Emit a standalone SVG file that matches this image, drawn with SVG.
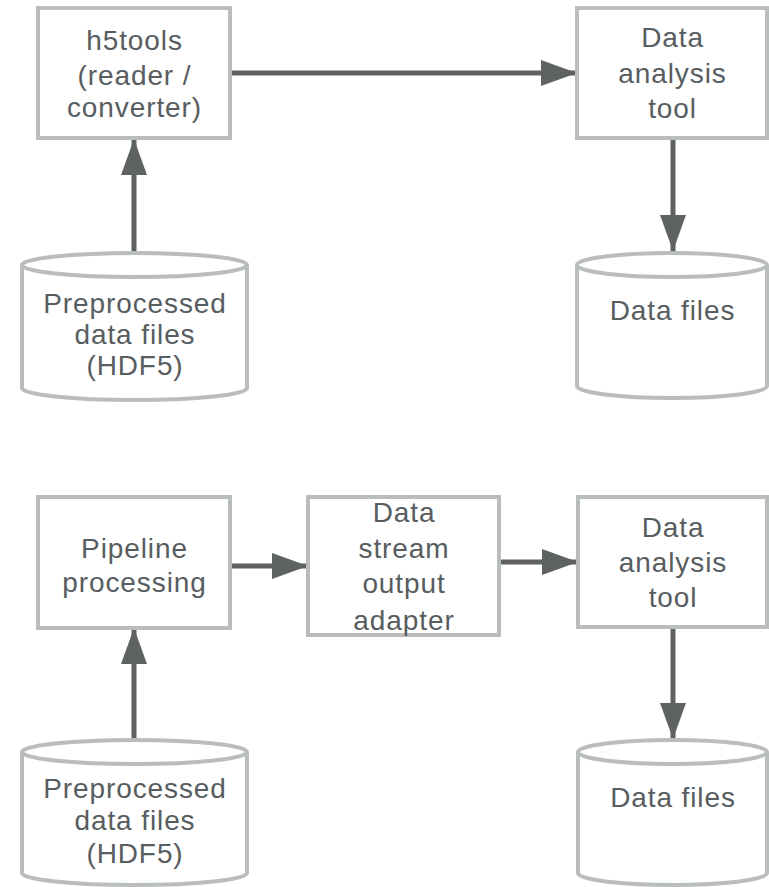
<svg xmlns="http://www.w3.org/2000/svg" width="769" height="887" viewBox="0 0 769 887">
  <style>
    .box { fill: #ffffff; stroke: #b9bdbe; stroke-width: 4; }
    .db { fill: #ffffff; stroke: #b9bdbe; stroke-width: 4; }
    .lbl { font-family: "Liberation Sans", Arial, sans-serif; font-size: 28px; letter-spacing: 0.9px; fill: #585d5f; text-anchor: middle; }
    .edge { stroke: #5e6263; stroke-width: 5; fill: none; }
    .head { fill: #5e6263; }
  </style>
  <defs>
    <marker id="arrow" viewBox="0 0 36 26" refX="36" refY="13" markerWidth="36" markerHeight="26" markerUnits="userSpaceOnUse" orient="auto">
      <path class="head" d="M0,0 L36,13 L0,26 Z"/>
    </marker>
  </defs>

  <!-- connectors -->
  <g id="edges">
    <line class="edge" x1="230" y1="73" x2="577" y2="73" marker-end="url(#arrow)"/>
    <line class="edge" x1="673" y1="138" x2="673" y2="251" marker-end="url(#arrow)"/>
    <line class="edge" x1="134" y1="253" x2="134" y2="139" marker-end="url(#arrow)"/>
    <line class="edge" x1="230" y1="566" x2="308" y2="566" marker-end="url(#arrow)"/>
    <line class="edge" x1="499" y1="562" x2="578" y2="562" marker-end="url(#arrow)"/>
    <line class="edge" x1="673" y1="627" x2="673" y2="739" marker-end="url(#arrow)"/>
    <line class="edge" x1="134" y1="740" x2="134" y2="628" marker-end="url(#arrow)"/>
  </g>

  <!-- top row -->
  <g id="h5tools">
    <rect class="box" x="38" y="8" width="192" height="130"/>
    <text class="lbl" x="134.5" y="50">h5tools</text>
    <text class="lbl" x="134.5" y="85">(reader /</text>
    <text class="lbl" x="134.5" y="117">converter)</text>
  </g>
  <g id="analysis-top">
    <rect class="box" x="577" y="8" width="190" height="130"/>
    <text class="lbl" x="672.5" y="47">Data</text>
    <text class="lbl" x="672.5" y="83">analysis</text>
    <text class="lbl" x="672.5" y="118">tool</text>
  </g>
  <g id="preprocessed-top">
    <path class="db" d="M22,265 A112.5,12 0 0,1 247,265 L247,388 A112.5,12 0 0,1 22,388 Z"/>
    <path class="db" d="M22,265 A112.5,12 0 0,0 247,265" fill="none"/>
    <text class="lbl" x="135" y="313">Preprocessed</text>
    <text class="lbl" x="135" y="344">data files</text>
    <text class="lbl" x="135" y="375">(HDF5)</text>
  </g>
  <g id="datafiles-top">
    <path class="db" d="M577,265 A95,12 0 0,1 767,265 L767,386 A95,12 0 0,1 577,386 Z"/>
    <path class="db" d="M577,265 A95,12 0 0,0 767,265" fill="none"/>
    <text class="lbl" x="672.5" y="320">Data files</text>
  </g>

  <!-- bottom row -->
  <g id="pipeline">
    <rect class="box" x="38" y="497" width="192" height="131"/>
    <text class="lbl" x="134.5" y="558">Pipeline</text>
    <text class="lbl" x="134.5" y="592">processing</text>
  </g>
  <g id="adapter">
    <rect class="box" x="308" y="497" width="191" height="138"/>
    <text class="lbl" x="404" y="522">Data</text>
    <text class="lbl" x="404" y="558">stream</text>
    <text class="lbl" x="404" y="593">output</text>
    <text class="lbl" x="404" y="630">adapter</text>
  </g>
  <g id="analysis-bottom">
    <rect class="box" x="578" y="497" width="189" height="130"/>
    <text class="lbl" x="673" y="537">Data</text>
    <text class="lbl" x="673" y="572">analysis</text>
    <text class="lbl" x="673" y="607">tool</text>
  </g>
  <g id="preprocessed-bottom">
    <path class="db" d="M22,752 A112.5,12 0 0,1 247,752 L247,873 A112.5,12 0 0,1 22,873 Z"/>
    <path class="db" d="M22,752 A112.5,12 0 0,0 247,752" fill="none"/>
    <text class="lbl" x="135" y="798">Preprocessed</text>
    <text class="lbl" x="135" y="830">data files</text>
    <text class="lbl" x="135" y="863">(HDF5)</text>
  </g>
  <g id="datafiles-bottom">
    <path class="db" d="M578,752 A94.5,12 0 0,1 767,752 L767,873 A94.5,12 0 0,1 578,873 Z"/>
    <path class="db" d="M578,752 A94.5,12 0 0,0 767,752" fill="none"/>
    <text class="lbl" x="673" y="807">Data files</text>
  </g>
</svg>
